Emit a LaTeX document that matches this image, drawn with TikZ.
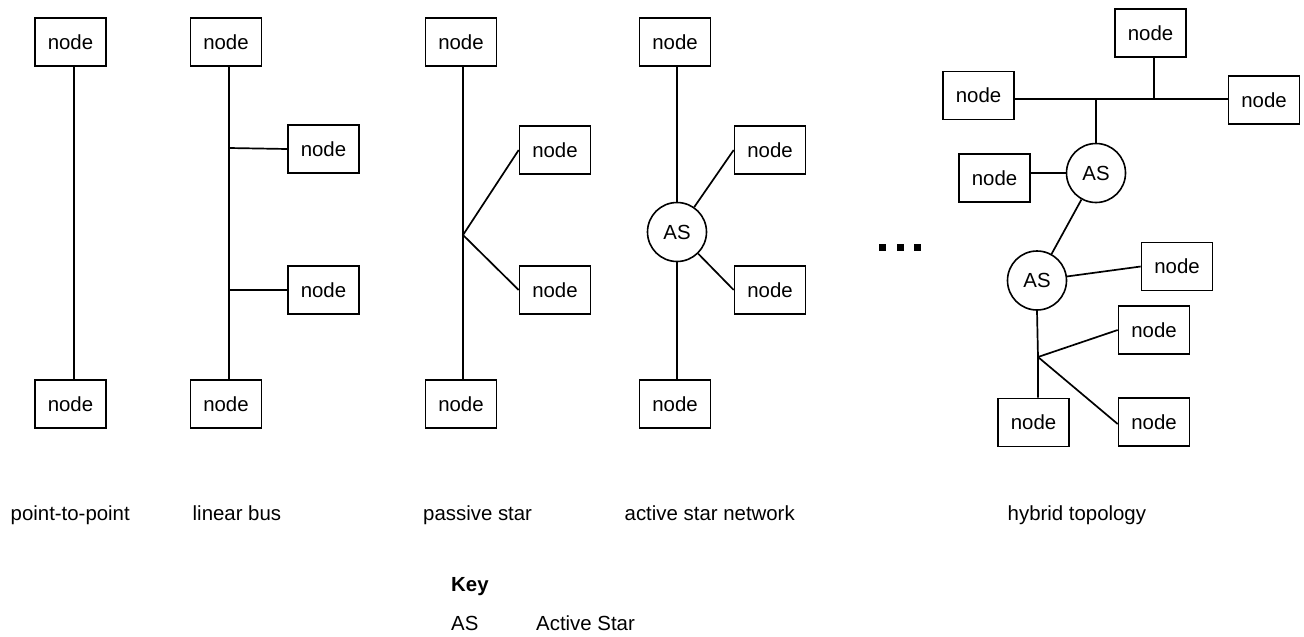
\documentclass[tikz,border=0pt]{standalone}
\usepackage{fontspec}
\setmainfont{Liberation Sans}
\begin{document}
\begin{tikzpicture}[x=1pt,y=-1pt,
  every node/.style={font=\fontsize{20.4}{24}\selectfont},
  box/.style={draw,line width=1.6pt,minimum width=71pt,minimum height=48pt,inner sep=0pt},
  as/.style={draw,circle,line width=1.6pt,minimum size=59pt,inner sep=0pt},
  wire/.style={line width=1.7pt},
  lbl/.style={anchor=base west,inner sep=0pt},
  dot/.style={fill=black,minimum size=7pt,inner sep=0pt}]
\useasboundingbox (0,0) rectangle (1304,637);
% point-to-point
\node[box] (pa) at (70.5,42) {node};
\node[box] (pb) at (70.5,404) {node};
\draw[wire] ([xshift=3.5pt]pa.south) -- ([xshift=3.5pt]pb.north);
% linear bus
\node[box] (la) at (226,42) {node};
\node[box] (lb) at (226,404) {node};
\node[box] (lr1) at (323.5,149) {node};
\node[box] (lr2) at (323.5,290) {node};
\draw[wire] ([xshift=3pt]la.south) -- ([xshift=3pt]lb.north);
\coordinate (lj1) at (229,148);
\coordinate (lj2) at (229,290);
\draw[wire] (lj1) -- (lr1.west);
\draw[wire] (lj2) -- (lr2.west);
% passive star
\node[box] (sa) at (461,42) {node};
\node[box] (sb) at (461,404) {node};
\node[box] (sr1) at (555,150) {node};
\node[box] (sr2) at (555,290) {node};
\coordinate (sj) at (463,235);
\draw[wire] ([xshift=2pt]sa.south) -- ([xshift=2pt]sb.north);
\draw[wire] (sr1.west) -- (sj) -- (sr2.west);
% active star
\node[box] (aa) at (675,42) {node};
\node[box] (ab) at (675,404) {node};
\node[box] (ar1) at (770,150) {node};
\node[box] (ar2) at (770,290) {node};
\node[as] (as) at (677,232) {AS};
\draw[wire] (as.north |- aa.south) -- (as.north);
\draw[wire] (as.south) -- (as.south |- ab.north);
\draw[wire] (as) -- (ar1.west);
\draw[wire] (as) -- (ar2.west);
% dots
\node[dot] (d1) at (882.5,247.5) {};
\node[dot] (d2) at (900.5,247.5) {};
\node[dot] (d3) at (917.5,247.5) {};
% hybrid
\node[box] (ht) at (1150.5,33) {node};
\node[box] (hl) at (978.5,95.5) {node};
\node[box] (hr) at (1264,100) {node};
\coordinate (hbl) at (1014,99);
\coordinate (hbr) at (1228,99);
\draw[wire] (hbl) -- (hbr);
\coordinate (hj1) at (1154,99);
\draw[wire] (hj1 |- ht.south) -- (hj1);
\coordinate (hj2) at (1096,99);
\node[as] (as1) at (1096,173) {AS};
\draw[wire] (hj2) -- (as1.north);
\node[box] (h1) at (994.5,178) {node};
\draw[wire] (h1.east |- as1.west) -- (as1.west);
\node[as] (as2) at (1037,280.5) {AS};
\draw[wire] (as1) -- (as2);
\node[box] (h2) at (1177,266.5) {node};
\draw[wire] (as2) -- (h2.west);
\coordinate (hj3) at (1038,357);
\node[box] (h3) at (1154,330) {node};
\node[box] (h4) at (1033.5,422.5) {node};
\node[box] (h5) at (1154,422) {node};
\draw[wire] (as2.south) -- (hj3) -- (hj3 |- h4.north);
\draw[wire] (hj3) -- (h3.west);
\draw[wire] (hj3) -- ([yshift=-2pt]h5.west);
% labels
\node[lbl] (t1) at (10.5,520.5) {point-to-point};
\node[lbl] (t2) at (192.5,520.5) {linear bus};
\node[lbl] (t3) at (423,520.5) {passive star};
\node[lbl] (t4) at (624.5,520.5) {active star network};
\node[lbl] (t5) at (1007.5,520.5) {hybrid topology};
\node[lbl,font=\fontsize{20.4}{24}\selectfont\bfseries] (k0) at (451,591.5) {Key};
\node[lbl] (k1) at (451,630.5) {AS};
\node[lbl] (k2) at (536,630.5) {Active Star};
\end{tikzpicture}
\end{document}
